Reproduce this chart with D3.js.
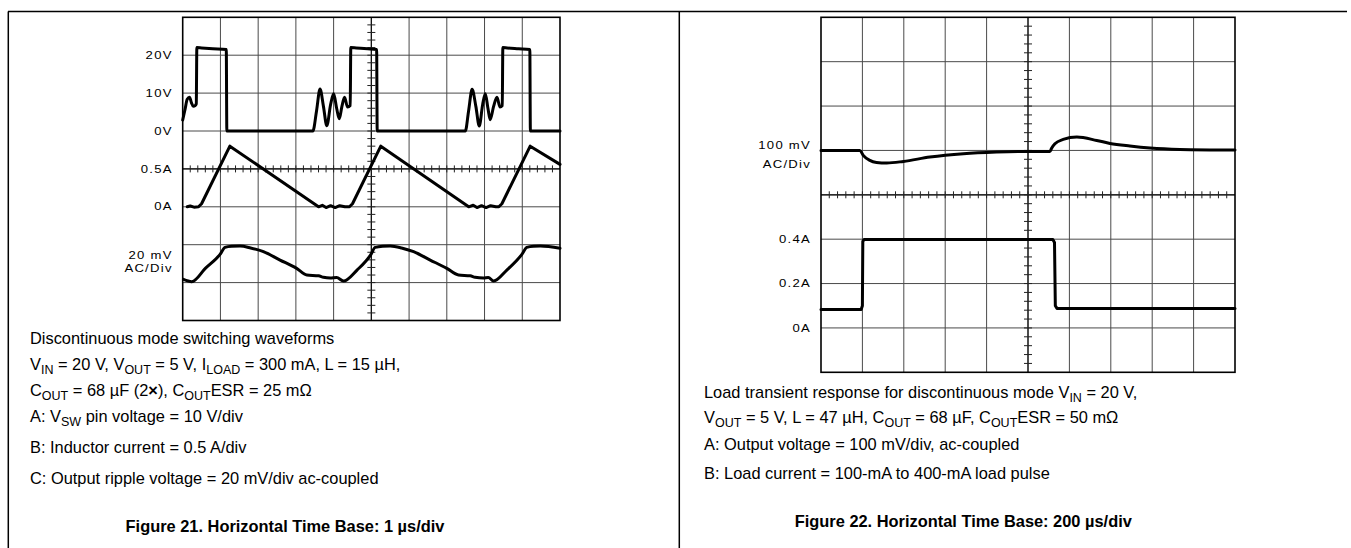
<!DOCTYPE html>
<html>
<head>
<meta charset="utf-8">
<script src="https://d3js.org/d3.v7.min.js"></script>
<style>
    body { margin: 0; background: #fff; }
    .lbl { font-family: "Liberation Sans", Arial, sans-serif; font-size: 10.5px; letter-spacing: 1px; fill: #000; }
    .cap { font-family: "Liberation Sans", Arial, sans-serif; font-size: 16.4px; fill: #000; }
    .ttl { font-weight: bold; }
    .trace { fill: none; stroke: #000; stroke-width: 3; stroke-linejoin: round; stroke-linecap: round; }
</style>
</head>
<body>
<svg width="1351" height="548"></svg>
<script>
    // ---- Figure 21 : 1 us/div, x in divisions ----
    // A: switch pin voltage [div, V]
    const swVoltage = [
        [0.00, 2.9], [0.06, 5.6], [0.12, 8.4], [0.18, 8.9], [0.23, 7.5], [0.28, 6.5], [0.33, 6.7], [0.36, 7.2],
        [0.375, 22.0], [0.5, 21.9], [0.8, 21.7], [1.155, 21.5], [1.17, 0], [3.45, 0],
        [3.55, 5.5], [3.64, 11.1], [3.73, 6.5], [3.82, 1.4], [3.92, 7.0], [4.00, 9.8], [4.08, 6.0], [4.15, 3.2],
        [4.22, 6.5], [4.29, 8.9], [4.37, 6.3], [4.44, 6.7],
        [4.455, 22.0], [4.6, 21.9], [4.9, 21.7], [5.14, 21.5], [5.155, 0], [7.49, 0],
        [7.58, 5.5], [7.67, 11.0], [7.77, 6.5], [7.86, 1.3], [7.95, 7.0], [8.02, 9.8], [8.09, 6.0], [8.15, 3.0],
        [8.24, 6.5], [8.33, 8.9], [8.41, 6.3], [8.47, 6.7],
        [8.485, 22.0], [8.6, 21.9], [8.9, 21.7], [9.2, 21.5], [9.215, 0], [10, 0]
    ];
    // B: inductor current [div, A]
    const indCurrent = [
        [0.12, 0.0], [0.2, 0.01], [0.3, -0.005], [0.42, 0.0], [0.5, 0.04], [1.25, 0.8],
        [3.6, 0.0], [3.7, 0.02], [3.8, -0.01], [3.92, 0.015], [4.04, -0.01], [4.16, 0.015], [4.3, 0.0], [4.42, 0.0],
        [4.5, 0.04], [5.25, 0.8],
        [7.58, 0.0], [7.7, 0.02], [7.8, -0.01], [7.92, 0.015], [8.04, -0.01], [8.16, 0.015], [8.3, 0.0], [8.38, 0.0],
        [8.46, 0.04], [9.21, 0.8], [10.0, 0.56]
    ];
    // C: output ripple [div, mV]
    const rippleV = [
        [0.02, 1.7], [0.24, 0.5], [0.6, 7.5], [0.99, 14.9], [1.12, 18.6], [1.3, 19.2], [1.52, 19.3], [1.8, 18.3],
        [2.14, 16.3], [2.58, 11.9], [3.02, 7.5], [3.29, 4.0], [3.6, 3.6], [3.73, 2.8], [3.91, 2.4], [4.08, 2.7],
        [4.26, 0.8], [4.62, 6.6], [4.99, 14.9], [5.1, 18.6], [5.3, 19.2], [5.5, 19.3], [5.8, 18.3],
        [6.12, 16.3], [6.56, 11.9], [7.0, 7.5], [7.31, 4.0], [7.62, 3.6], [7.75, 2.8], [7.97, 2.4], [8.1, 2.7],
        [8.24, 0.8], [8.59, 6.6], [8.99, 14.9], [9.12, 18.6], [9.3, 19.2], [9.48, 19.3], [10.0, 18.1]
    ];
    const fig21Labels = [
        { ch: "A", v: 20, text: ["20V"] },
        { ch: "A", v: 10, text: ["10V"] },
        { ch: "A", v: 0, text: ["0V"] },
        { ch: "B", v: 0.5, text: ["0.5A"] },
        { ch: "B", v: 0, text: ["0A"] },
        { ch: "C", v: 11, text: ["20 mV", "AC/Div"] }
    ];
    const fig21Caption = [
        "Discontinuous mode switching waveforms",
        "V_{IN} = 20 V, V_{OUT} = 5 V, I_{LOAD} = 300 mA, L = 15 µH,",
        "C_{OUT} = 68 µF (2*{×}), C_{OUT}ESR = 25 mΩ",
        "A: V_{SW} pin voltage = 10 V/div",
        "B: Inductor current = 0.5 A/div",
        "C: Output ripple voltage = 20 mV/div ac-coupled"
    ];
    const fig21Title = "Figure 21. Horizontal Time Base: 1 µs/div";

    // ---- Figure 22 : 200 us/div ----
    // A: output voltage, ac coupled [div, mV]
    const outVoltage = [
        [0, 0], [0.94, 0], [1.02, -11.3], [1.18, -22.5], [1.34, -27], [1.59, -28.4], [1.99, -24.8], [2.63, -15],
        [3.44, -7.4], [4.24, -3.7], [4.97, -2.2], [5.53, -2.2], [5.57, 5], [5.65, 15], [5.85, 24.8], [6.18, 30],
        [6.66, 22.5], [6.98, 15.8], [7.46, 9.9], [7.95, 5.4], [8.67, 2.3], [10, 0.9]
    ];
    // B: load current [div, A]
    const loadCurrent = [
        [0, 0.083], [0.97, 0.083], [1.0, 0.1], [1.01, 0.39], [1.04, 0.398], [5.6, 0.398], [5.64, 0.385],
        [5.66, 0.1], [5.7, 0.088], [10, 0.088]
    ];
    const fig22Labels = [
        { ch: "A", v: -9, text: ["100 mV", "AC/Div"] },
        { ch: "B", v: 0.4, text: ["0.4A"] },
        { ch: "B", v: 0.2, text: ["0.2A"] },
        { ch: "B", v: 0, text: ["0A"] }
    ];
    const fig22Caption = [
        "Load transient response for discontinuous mode V_{IN} = 20 V,",
        "V_{OUT} = 5 V, L = 47 µH, C_{OUT} = 68 µF, C_{OUT}ESR = 50 mΩ",
        "A: Output voltage = 100 mV/div, ac-coupled",
        "B: Load current = 100-mA to 400-mA load pulse"
    ];
    const fig22Title = "Figure 22. Horizontal Time Base: 200 µs/div";

    const svg = d3.select("svg");

    // page frame
    svg.append("line").attr("x1", 8).attr("x2", 1347).attr("y1", 11.5).attr("y2", 11.5).attr("stroke", "#000").attr("stroke-width", 1.5);
    svg.append("line").attr("x1", 8.3).attr("x2", 8.3).attr("y1", 11.5).attr("y2", 548).attr("stroke", "#000").attr("stroke-width", 1.5);
    svg.append("line").attr("x1", 679.3).attr("x2", 679.3).attr("y1", 11.5).attr("y2", 548).attr("stroke", "#000").attr("stroke-width", 1.5);

    function drawScope(box, chans, traces, labels, labelGap) {
        const g = svg.append("g");
        const x = d3.scaleLinear().domain([0, 10]).range([box.left, box.right]);
        const yDiv = d3.scaleLinear().domain([0, 8]).range([box.bottom, box.top]);

        // graticule
        g.selectAll("line.gv").data(d3.range(1, 10)).join("line").attr("class", "gv")
            .attr("x1", d => x(d)).attr("x2", d => x(d)).attr("y1", box.top).attr("y2", box.bottom)
            .attr("stroke", "#4a4a4a").attr("stroke-width", 1);
        g.selectAll("line.gh").data(d3.range(1, 8)).join("line").attr("class", "gh")
            .attr("y1", d => yDiv(d)).attr("y2", d => yDiv(d)).attr("x1", box.left).attr("x2", box.right)
            .attr("stroke", "#4a4a4a").attr("stroke-width", 1);

        // centre axes with minor ticks
        g.append("line").attr("x1", x(5)).attr("x2", x(5)).attr("y1", box.top).attr("y2", box.bottom)
            .attr("stroke", "#111").attr("stroke-width", 1.2);
        g.append("line").attr("x1", box.left).attr("x2", box.right).attr("y1", yDiv(4)).attr("y2", yDiv(4))
            .attr("stroke", "#111").attr("stroke-width", 1.2);
        g.selectAll("line.tx").data(d3.range(1, 50)).join("line").attr("class", "tx")
            .attr("x1", d => x(d / 5)).attr("x2", d => x(d / 5))
            .attr("y1", yDiv(4) - 3.5).attr("y2", yDiv(4) + 3.5)
            .attr("stroke", "#222").attr("stroke-width", 1);
        g.selectAll("line.ty").data(d3.range(1, 40)).join("line").attr("class", "ty")
            .attr("y1", d => yDiv(d / 5)).attr("y2", d => yDiv(d / 5))
            .attr("x1", x(5) - 4).attr("x2", x(5) + 4)
            .attr("stroke", "#222").attr("stroke-width", 1);

        // outer border
        g.append("rect").attr("x", box.left).attr("y", box.top)
            .attr("width", box.right - box.left).attr("height", box.bottom - box.top)
            .attr("fill", "none").attr("stroke", "#000").attr("stroke-width", 1.6);

        // channel scales
        const sc = {};
        Object.keys(chans).forEach(k => {
            sc[k] = d3.scaleLinear().domain(chans[k]).range([box.bottom, box.top]);
        });

        traces.forEach(t => {
            const line = d3.line().x(d => x(d[0])).y(d => sc[t.ch](d[1])).curve(t.curve);
            g.append("path").attr("class", "trace").attr("d", line(t.data));
        });

        labels.forEach(l => {
            const y0 = sc[l.ch](l.v);
            l.text.forEach((s, i) => {
                const yy = y0 + (i - (l.text.length - 1) / 2) * labelGap;
                g.append("text").attr("class", "lbl")
                    .attr("transform", `translate(${box.left - 10},${yy}) scale(1.25,1)`)
                    .attr("text-anchor", "end").attr("dy", "0.35em")
                    .text(s);
            });
        });
    }

    // write a caption line; _{..} = subscript, *{..} = bold
    function captionLine(x, y, str, cls) {
        const t = svg.append("text").attr("class", cls).attr("x", x).attr("y", y);
        const parts = str.split(/([_*]\{[^}]*\})/).filter(p => p.length);
        let down = false;
        parts.forEach(p => {
            if (p.startsWith("_{")) {
                t.append("tspan").attr("dy", 4).attr("font-size", "12.5px").text(p.slice(2, -1));
                down = true;
            } else {
                const sp = t.append("tspan");
                if (down) { sp.attr("dy", -4); down = false; }
                if (p.startsWith("*{")) sp.attr("font-weight", "bold").text(p.slice(2, -1));
                else sp.text(p);
            }
        });
        return t;
    }

    drawScope({ left: 182.7, right: 560, top: 17.3, bottom: 320.5 },
        { A: [-50, 30], B: [-1.5, 2.5], C: [-20, 140] },
        [
            { ch: "A", data: swVoltage, curve: d3.curveMonotoneX },
            { ch: "B", data: indCurrent, curve: d3.curveLinear },
            { ch: "C", data: rippleV, curve: d3.curveMonotoneX }
        ],
        fig21Labels, 13.5);

    drawScope({ left: 821, right: 1235, top: 17.3, bottom: 372.3 },
        { A: [-500, 300], B: [-0.2, 1.4] },
        [
            { ch: "A", data: outVoltage, curve: d3.curveMonotoneX },
            { ch: "B", data: loadCurrent, curve: d3.curveLinear }
        ],
        fig22Labels, 19);

    const base21 = [344.3, 370, 395.5, 422.3, 452.7, 484];
    fig21Caption.forEach((s, i) => captionLine(30, base21[i], s, "cap"));
    captionLine(285, 532.3, fig21Title, "cap ttl").attr("text-anchor", "middle");

    const base22 = [398.3, 423.3, 450, 479.3];
    fig22Caption.forEach((s, i) => captionLine(704, base22[i], s, "cap"));
    captionLine(963.3, 526.7, fig22Title, "cap ttl").attr("text-anchor", "middle");
</script>
</body>
</html>
